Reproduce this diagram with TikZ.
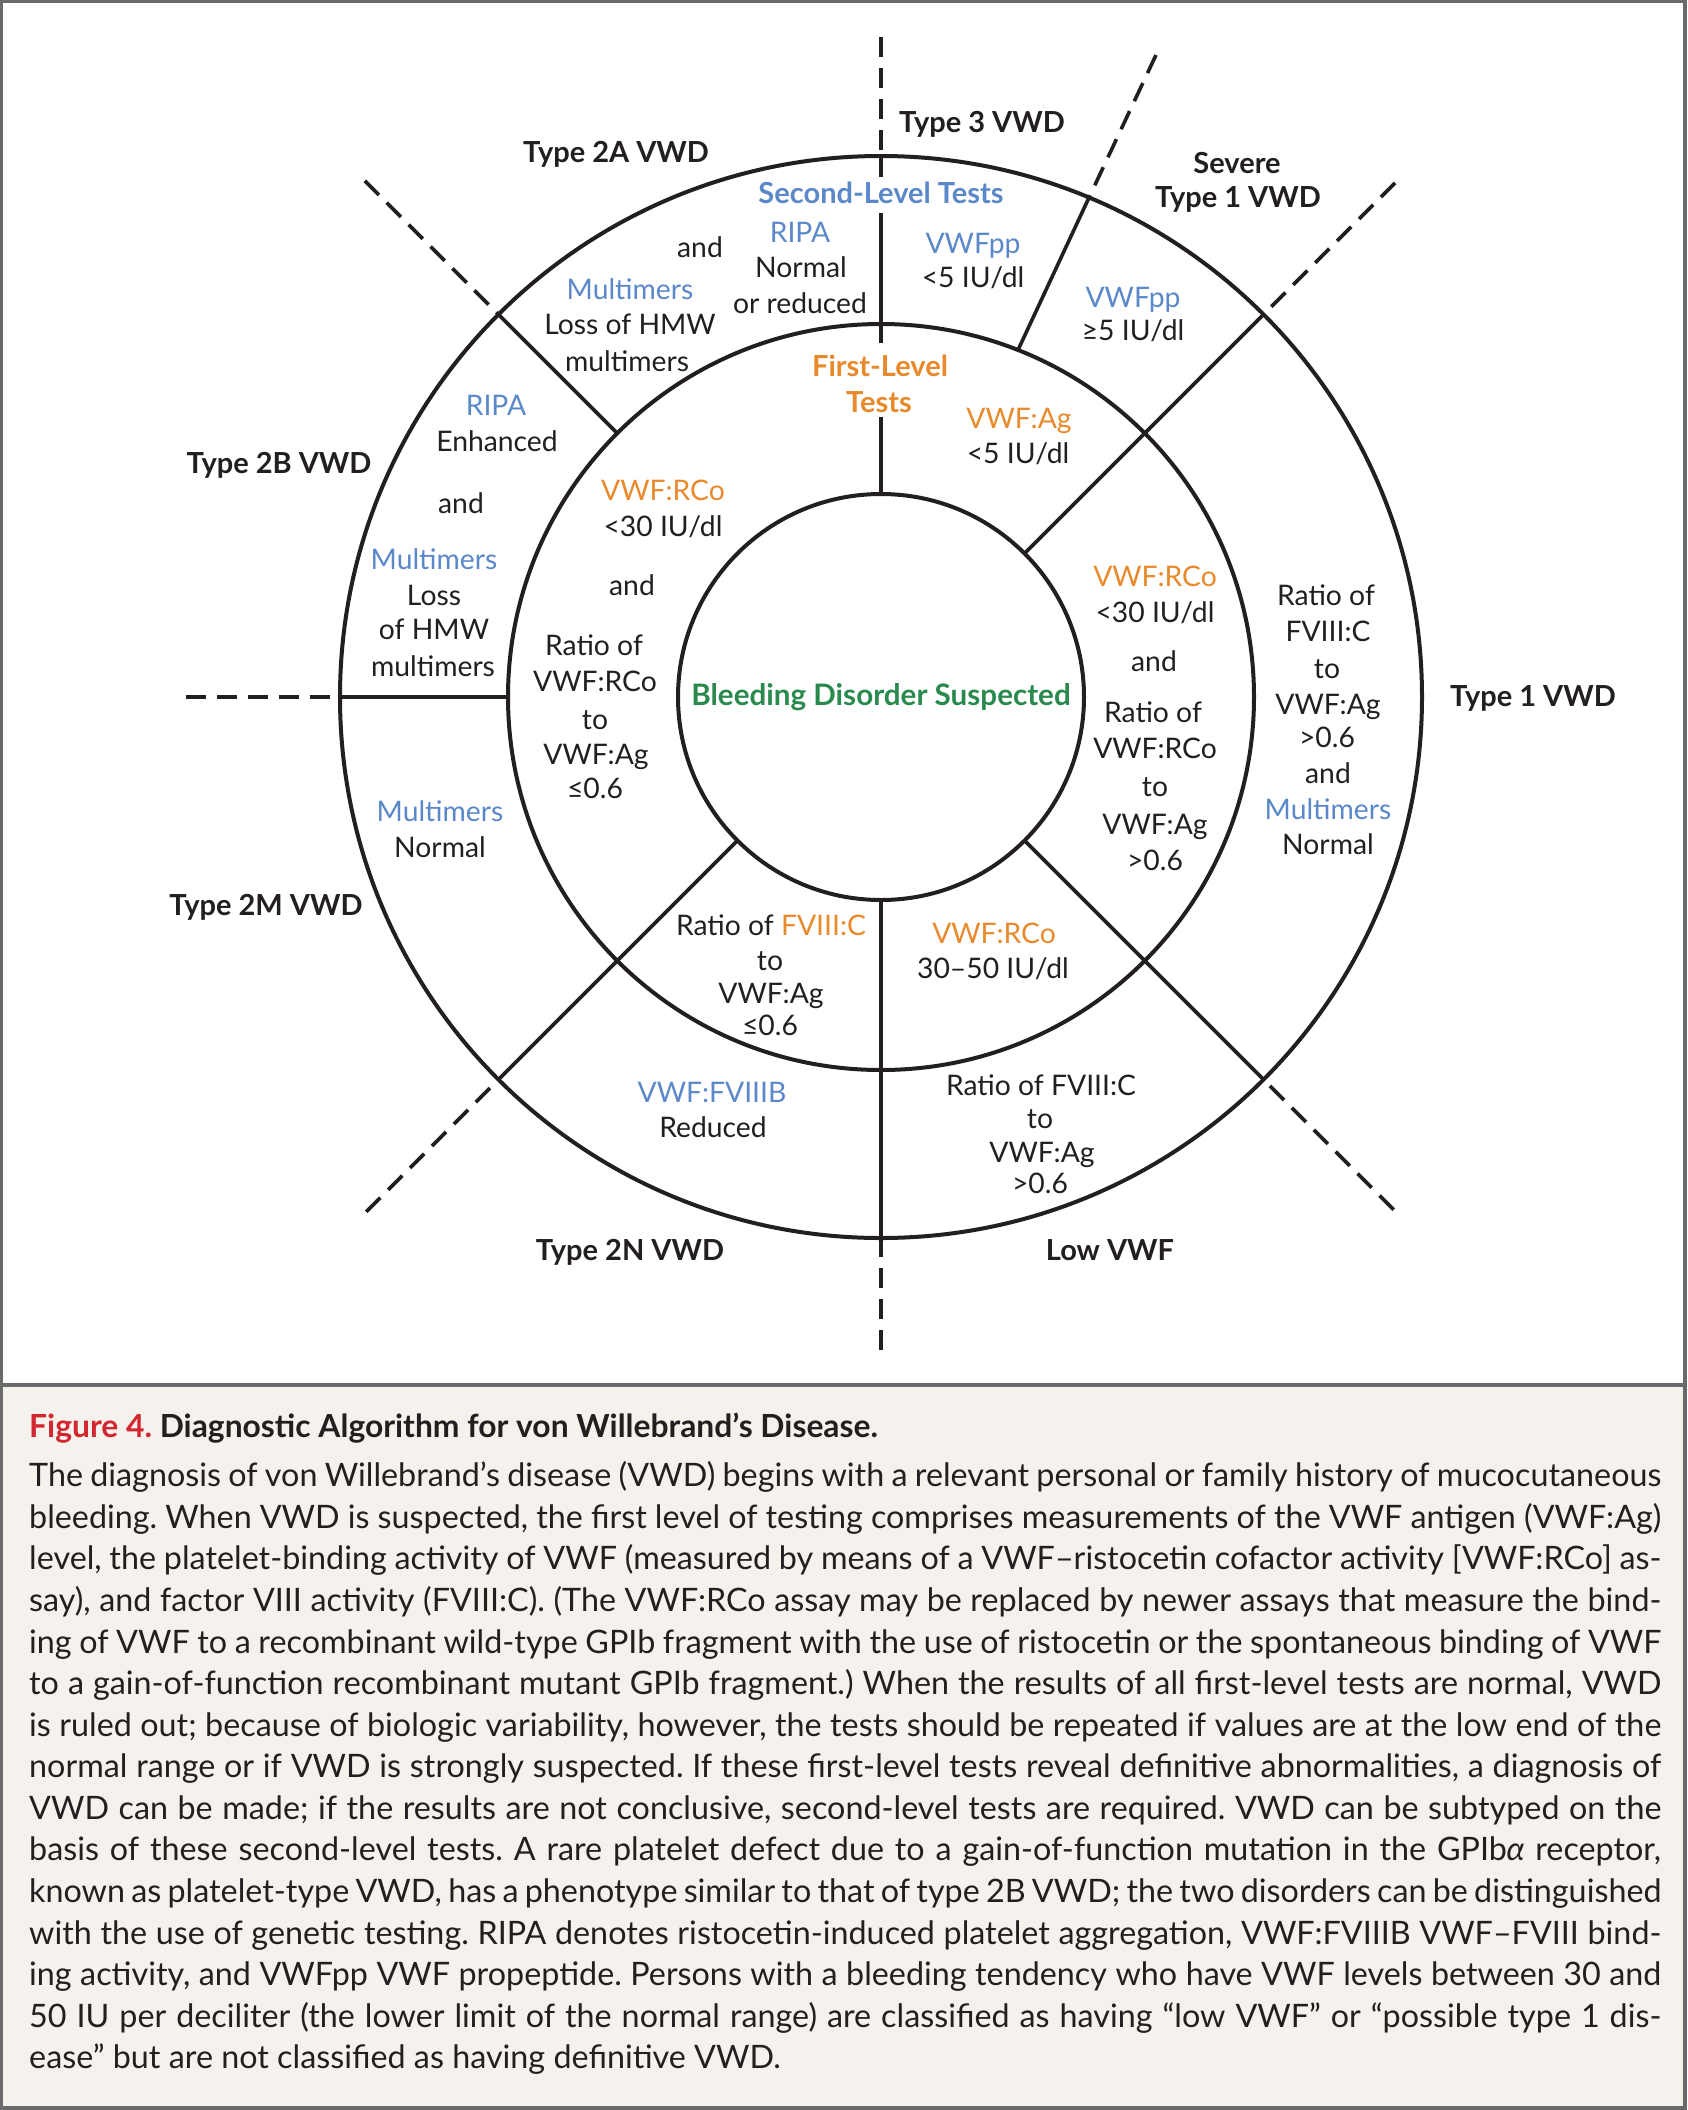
\documentclass[tikz,border=0pt]{standalone}
\usepackage{fontspec}
\setmainfont{Lato}
\usetikzlibrary{calc}
\definecolor{nblue}{HTML}{5B88C9}
\definecolor{norange}{HTML}{E88A2C}
\definecolor{ngreen}{HTML}{2A8A4E}
\definecolor{nred}{HTML}{D22730}
\definecolor{framegrey}{HTML}{6A6A6A}
\definecolor{capbg}{HTML}{F5F2EE}
\definecolor{ink}{HTML}{231F20}
\frenchspacing
\begin{document}
\begin{tikzpicture}[x=1pt,y=-1pt,
  ring/.style={draw=ink,line width=4pt},
  seg/.style={draw=ink,line width=3.6pt},
  dsh/.style={draw=ink,line width=3.6pt,dash pattern=on 20pt off 11pt},
  t/.style={anchor=base,yshift=-10.5pt,inner sep=0pt,font=\fontsize{28.3}{34}\selectfont,text=ink},
  tb/.style={t,text=nblue},
  to/.style={t,text=norange},
  lb/.style={t,font=\fontsize{29}{35}\selectfont\bfseries},
  capl/.style={anchor=base west,inner sep=0pt,font=\fontsize{32.3}{38}\selectfont,text=ink}
]
\useasboundingbox (0,0) rectangle (1687,2110);
% backgrounds and frame
\fill[white] (0,0) rectangle (1687,1385);
\fill[capbg] (0,1385) rectangle (1687,2110);
\fill[framegrey] (0,0) rectangle (1687,3);
\fill[framegrey] (0,0) rectangle (3,2110);
\fill[framegrey] (1683,0) rectangle (1687,2110);
\fill[framegrey] (0,2106) rectangle (1687,2110);
\fill[framegrey] (0,1383) rectangle (1687,1387);

\coordinate (C) at (881,697);
% circles
\draw[ring] (C) circle[radius=203];
\draw[ring] (C) circle[radius=373];
\draw[ring] (C) circle[radius=541];

% vertical top (with gaps for headings)
\draw[seg] (881,494) -- (881,417);
\draw[seg] (881,343) -- (881,213);
\draw[seg] (881,177) -- (881,156);
\draw[dsh] (881,37) -- (881,156);
% vertical bottom
\draw[seg] ($(C)+(90:203)$) -- ($(C)+(90:541)$);
\draw[dsh] ($(C)+(90:653)$) -- ($(C)+(90:541)$);
% horizontal left
\draw[seg] ($(C)+(180:373)$) -- ($(C)+(180:541)$);
\draw[dsh] ($(C)+(180:695)$) -- ($(C)+(180:541)$);
% upper-left diagonal
\draw[seg] ($(C)+(-135:373)$) -- ($(C)+(-135:541)$);
\draw[dsh] ($(C)+(-135:730)$) -- ($(C)+(-135:541)$);
% lower-left diagonal
\draw[seg] ($(C)+(135:203)$) -- ($(C)+(135:541)$);
\draw[dsh] ($(C)+(135:728)$) -- ($(C)+(135:541)$);
% lower-right diagonal
\draw[seg] ($(C)+(45:203)$) -- ($(C)+(45:541)$);
\draw[dsh] ($(C)+(45:725)$) -- ($(C)+(45:541)$);
% upper-right diagonal
\draw[seg] ($(C)+(-45:203)$) -- ($(C)+(-45:541)$);
\draw[dsh] ($(C)+(-45:727)$) -- ($(C)+(-45:541)$);
% steep line (Type 3 / Severe type 1)
\coordinate (s1) at (1018,350);
\coordinate (s2) at (1089,197.6);
\coordinate (s3) at (1156,55);
\draw[seg] (s1) -- (s2);
\draw[dsh] (s3) -- (s2);

% outer labels
\node[lb] (l3) at (982,122) {Type 3 VWD};
\node[lb] (l2a) at (616,152) {Type 2A VWD};
\node[lb] (lsev) at (1237,163) {Severe};
\node[lb] (lsev2) at (1238,197) {Type 1 VWD};
\node[lb] (l2b) at (279,463) {Type 2B VWD};
\node[lb] (l1) at (1533,696) {Type 1 VWD};
\node[lb] (l2m) at (266,905) {Type 2M VWD};
\node[lb] (l2n) at (630,1250) {Type 2N VWD};
\node[lb] (llow) at (1110,1250) {Low VWF};

% headings
\node[lb,text=nblue] (h2) at (881,193) {Second-Level Tests};
\node[lb,text=norange] (h1a) at (880,366) {First-Level};
\node[lb,text=norange] (h1b) at (879,402) {Tests};
\node[lb,text=ngreen,font=\fontsize{29.6}{36}\selectfont\bfseries] (hb) at (881,695) {Bleeding Disorder Suspected};

% Type 2A outer region
\node[t] (a1) at (700,247) {and};
\node[tb] (a2) at (630,289) {Multimers};
\node[t] (a3) at (630,324) {Loss of HMW};
\node[t] (a4) at (627,361) {multimers};
\node[tb] (a5) at (800,232) {RIPA};
\node[t] (a6) at (801,267) {Normal};
\node[t] (a7) at (800,303) {or reduced};
% Type 3 outer
\node[tb] (b1) at (973,243) {VWFpp};
\node[t] (b2) at (973,277) {<5 IU/dl};
% Severe type 1 outer
\node[tb] (c1) at (1133,297) {VWFpp};
\node[t] (c2) at (1133,330) {≥5 IU/dl};
% VWF:Ag middle
\node[to] (d1) at (1019,418) {VWF:Ag};
\node[t] (d2) at (1018,453) {<5 IU/dl};
% left middle
\node[to] (e1) at (663,490) {VWF:RCo};
\node[t] (e2) at (663,526) {<30 IU/dl};
\node[t] (e3) at (632,585) {and};
\node[t] (e4) at (594,645) {Ratio of};
\node[t] (e5) at (595,681) {VWF:RCo};
\node[t] (e6) at (595,719) {to};
\node[t] (e7) at (596,754) {VWF:Ag};
\node[t] (e8) at (595,788) {≤0.6};
% Type 2B outer
\node[tb] (f1) at (496,405) {RIPA};
\node[t] (f2) at (497,441) {Enhanced};
\node[t] (f3) at (461,503) {and};
\node[tb] (f4) at (434,559) {Multimers};
\node[t] (f5) at (434,595) {Loss};
\node[t] (f6) at (434,629) {of HMW};
\node[t] (f7) at (433,666) {multimers};
% Type 2M outer
\node[tb] (g1) at (440,811) {Multimers};
\node[t] (g2) at (440,847) {Normal};
% right middle
\node[to] (h1) at (1155,576) {VWF:RCo};
\node[t] (h2r) at (1155,612) {<30 IU/dl};
\node[t] (h3) at (1154,661) {and};
\node[t] (h4) at (1153,712) {Ratio of};
\node[t] (h5) at (1155,748) {VWF:RCo};
\node[t] (h6) at (1155,786) {to};
\node[t] (h7) at (1155,824) {VWF:Ag};
\node[t] (h8) at (1155,860) {>0.6};
% Type 1 outer
\node[t] (i1) at (1326,595) {Ratio of};
\node[t] (i2) at (1328,631) {FVIII:C};
\node[t] (i3) at (1327,668) {to};
\node[t] (i4) at (1328,704) {VWF:Ag};
\node[t] (i5) at (1327,737) {>0.6};
\node[t] (i6) at (1328,773) {and};
\node[tb] (i7) at (1328,809) {Multimers};
\node[t] (i8) at (1328,844) {Normal};
% bottom-left middle
\node[t] (j1) at (771,925) {Ratio of \textcolor{norange}{FVIII:C}};
\node[t] (j2) at (770,960) {to};
\node[t] (j3) at (771,993) {VWF:Ag};
\node[t] (j4) at (770,1025) {≤0.6};
% bottom-right middle
\node[to] (k1) at (994,933) {VWF:RCo};
\node[t] (k2) at (993,968) {30–50 IU/dl};
% Type 2N outer
\node[tb] (m1) at (712,1092) {VWF:FVIIIB};
\node[t] (m2) at (713,1127) {Reduced};
% Low VWF outer
\node[t] (n1) at (1041,1085) {Ratio of FVIII:C};
\node[t] (n2) at (1040,1118) {to};
\node[t] (n3) at (1042,1152) {VWF:Ag};
\node[t] (n4) at (1040,1183) {>0.6};

% caption
\node[capl,font=\fontsize{31.8}{38}\selectfont\bfseries] (ct) at (29,1437) {\textcolor{nred}{Figure 4.} Diagnostic Algorithm for von Willebrand’s Disease.};
\node[capl] (cl1) at (29,1486.7) {\makebox[1632pt][s]{The diagnosis of von Willebrand’s disease (VWD) begins with a relevant personal or family history of mucocutaneous}};
\node[capl] (cl2) at (29,1528.3) {\makebox[1632pt][s]{bleeding. When VWD is suspected, the first level of testing comprises measurements of the VWF antigen (VWF:Ag)}};
\node[capl] (cl3) at (29,1569.8) {\makebox[1632pt][s]{level, the platelet-binding activity of VWF (measured by means of a VWF–ristocetin cofactor activity [VWF:RCo] as-}};
\node[capl] (cl4) at (29,1611.4) {\makebox[1632pt][s]{say), and factor VIII activity (FVIII:C). (The VWF:RCo assay may be replaced by newer assays that measure the bind-}};
\node[capl] (cl5) at (29,1653.0) {\makebox[1632pt][s]{ing of VWF to a recombinant wild-type GPIb fragment with the use of ristocetin or the spontaneous binding of VWF}};
\node[capl] (cl6) at (29,1694.5) {\makebox[1632pt][s]{to a gain-of-function recombinant mutant GPIb fragment.) When the results of all first-level tests are normal, VWD}};
\node[capl] (cl7) at (29,1736.1) {\makebox[1632pt][s]{is ruled out; because of biologic variability, however, the tests should be repeated if values are at the low end of the}};
\node[capl] (cl8) at (29,1777.7) {\makebox[1632pt][s]{normal range or if VWD is strongly suspected. If these first-level tests reveal definitive abnormalities, a diagnosis of}};
\node[capl] (cl9) at (29,1819.3) {\makebox[1632pt][s]{VWD can be made; if the results are not conclusive, second-level tests are required. VWD can be subtyped on the}};
\node[capl] (cl10) at (29,1860.8) {\makebox[1632pt][s]{basis of these second-level tests. A rare platelet defect due to a gain-of-function mutation in the GPIb{\itshape α} receptor,}};
\node[capl] (cl11) at (29,1902.4) {\makebox[1632pt][s]{known as platelet-type VWD, has a phenotype similar to that of type 2B VWD; the two disorders can be distinguished}};
\node[capl] (cl12) at (29,1944.0) {\makebox[1632pt][s]{with the use of genetic testing. RIPA denotes ristocetin-induced platelet aggregation, VWF:FVIIIB VWF–FVIII bind-}};
\node[capl] (cl13) at (29,1985.5) {\makebox[1632pt][s]{ing activity, and VWFpp VWF propeptide. Persons with a bleeding tendency who have VWF levels between 30 and}};
\node[capl] (cl14) at (29,2027.1) {\makebox[1632pt][s]{50 IU per deciliter (the lower limit of the normal range) are classified as having “low VWF” or “possible type 1 dis-}};
\node[capl] (cl15) at (29,2068.7) {ease” but are not classified as having definitive VWD.};
\end{tikzpicture}
\end{document}
